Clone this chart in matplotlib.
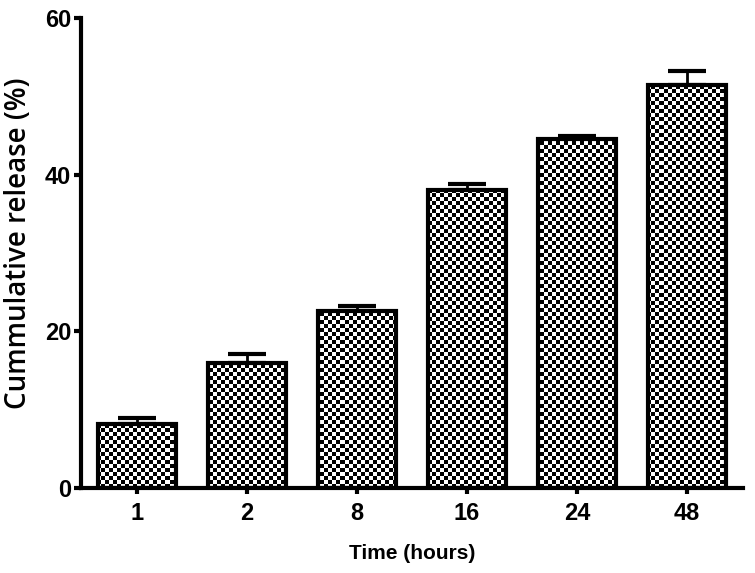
import numpy as np
import matplotlib
matplotlib.use("Agg")
import matplotlib.pyplot as plt

categories = ["1", "2", "8", "16", "24", "48"]
values = [8.2, 16.0, 22.6, 38.0, 44.6, 51.5]
errors = [0.8, 1.1, 0.6, 0.8, 0.4, 1.7]
yticks = [0, 20, 40, 60]

fig = plt.figure(figsize=(7.55, 5.73), dpi=100)
ax = fig.add_axes([0.1073, 0.1483, 0.8767, 0.8203])

x = np.arange(len(categories))
bars = ax.bar(x, values, width=0.71, facecolor="none", edgecolor="black",
              linewidth=3.0, zorder=3)
ax.errorbar(x, values, yerr=[np.zeros(len(errors)), errors], fmt="none",
            ecolor="black", elinewidth=2.0, capsize=14, capthick=3.0, zorder=2)

ax.set_xlim(-0.51, 5.51)
ax.set_ylim(0, 60)

# checkerboard texture clipped to each bar
cell = 4  # pixels
nx = int(662 / cell) + 1
ny = int(470 / cell) + 1
board = (np.add.outer(np.arange(ny), np.arange(nx)) % 2).astype(float)
for b in bars:
    im = ax.imshow(board, cmap="gray", vmin=0, vmax=1, interpolation="nearest",
                   extent=[-0.51, 5.51, 0, 60], aspect="auto", zorder=2.5)
    im.set_clip_path(b)
ax.set_xlim(-0.51, 5.51)
ax.set_ylim(0, 60)

ax.set_xticks(x)
ax.set_xticklabels(categories)
ax.set_yticks(yticks)
for lab in ax.get_xticklabels() + ax.get_yticklabels():
    lab.set_fontfamily("Liberation Sans")
    lab.set_fontweight("bold")
    lab.set_fontsize(17)

for s in ["top", "right"]:
    ax.spines[s].set_visible(False)
for s in ["left", "bottom"]:
    ax.spines[s].set_linewidth(3.0)
ax.tick_params(axis="y", direction="out", length=5, width=3, pad=2)
ax.tick_params(axis="x", direction="out", length=4, width=3, pad=6)

ax.set_ylabel("Cummulative release (%)", fontfamily="Open Sans", fontweight="semibold",
              fontsize=20)
ax.yaxis.set_label_coords(-0.072, 0.521)
ax.set_xlabel("Time (hours)", fontfamily="Liberation Sans", fontweight="bold",
              fontsize=15)
ax.xaxis.set_label_coords(0.5, -0.12)

fig.savefig("out.png", dpi=100)
